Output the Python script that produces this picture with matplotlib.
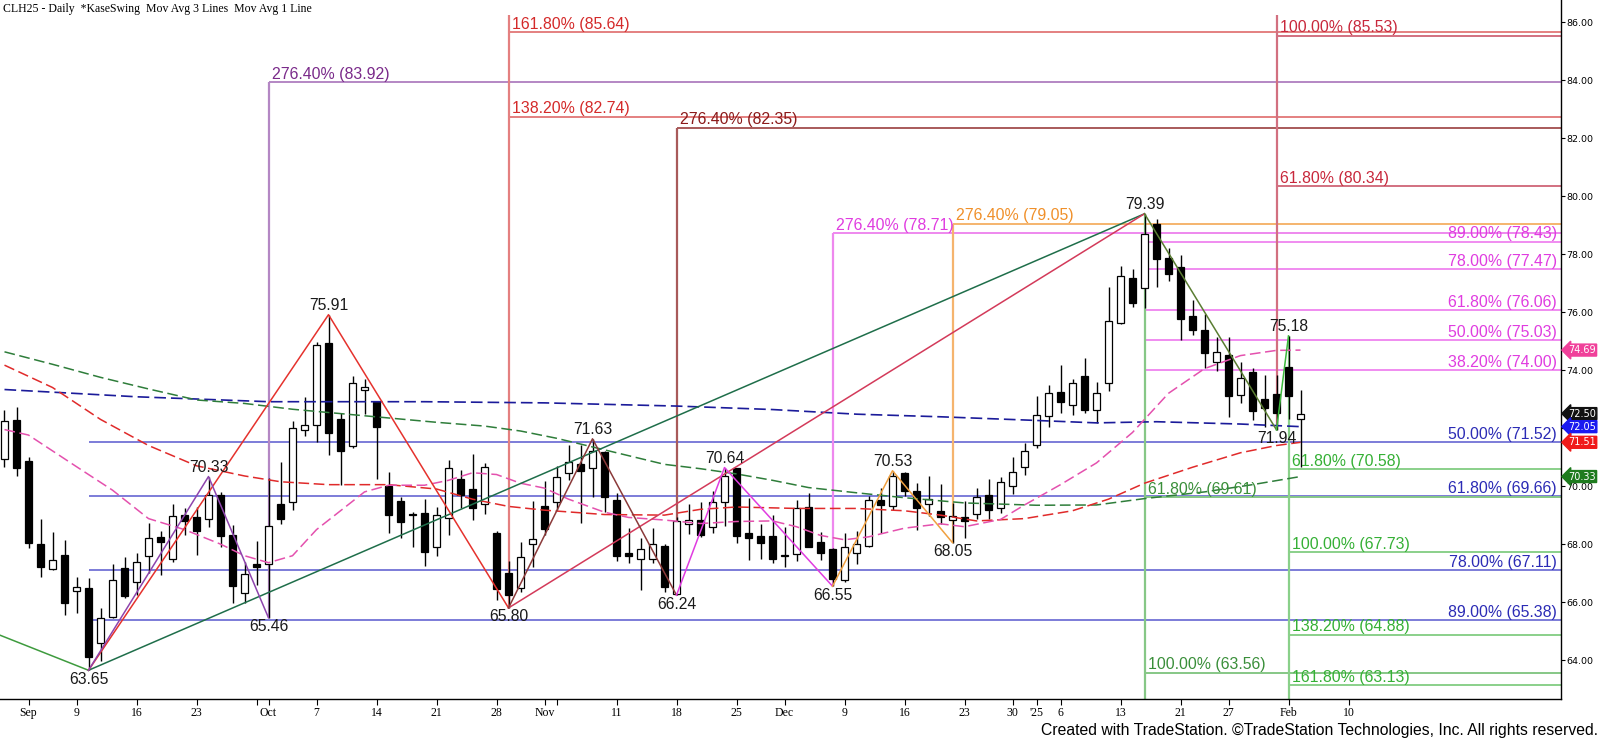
import matplotlib
matplotlib.use("Agg")
import matplotlib.pyplot as plt
import matplotlib.transforms as mtrans
from matplotlib.patches import Rectangle
from matplotlib import font_manager
import numpy as np
import pandas as pd

# ---------------- data ----------------
holidays = ["2024-09-02", "2024-11-28", "2024-12-25", "2025-01-01", "2025-01-20"]
all_days = pd.bdate_range("2024-08-29", "2025-02-14")
all_days = all_days[~all_days.isin(pd.to_datetime(holidays))]

opens = [70.93, 72.28, 70.86, 68.02, 67.13, 67.64, 66.37, 66.47, 64.60, 65.49,
         67.16, 66.68, 67.60, 68.25, 67.47, 69.00, 68.92, 68.85, 69.71, 68.31,
         66.33, 67.31, 67.33, 69.40, 69.44, 71.95, 72.10, 74.94, 72.33, 71.38,
         73.33, 72.91, 70.00, 69.48, 69.05, 69.06, 67.89, 68.91, 70.23, 69.89,
         69.38, 68.40, 66.99, 66.47, 67.99, 69.31, 69.44, 70.44, 70.75, 70.61,
         71.16, 69.52, 67.70, 67.47, 67.50, 67.93, 66.27, 68.68, 68.82, 68.58,
         69.46, 70.61, 68.37, 68.28, 68.28, 67.58, 67.66, 69.27, 68.09, 67.82,
         66.76, 67.68, 67.93, 69.51, 69.31, 70.46, 69.84, 69.40, 69.15, 68.83,
         68.94, 69.03, 69.71, 69.26, 70.00, 70.67, 71.41, 72.43, 73.25, 72.79,
         73.79, 72.64, 73.54, 75.64, 77.18, 76.82, 79.05, 77.85, 77.54, 75.86,
         75.38, 74.27, 74.51, 73.13, 73.92, 73.01, 73.17, 74.09, 72.33]
highs = [72.62, 72.74, 71.00, 68.86, 68.42, 68.14, 66.87, 66.82, 65.80, 67.33,
         67.56, 67.71, 68.73, 68.46, 69.37, 69.23, 69.29, 70.33, 69.80, 68.66,
         67.39, 68.10, 70.27, 70.82, 72.24, 73.06, 74.98, 75.91, 72.53, 73.79,
         73.68, 72.95, 70.49, 69.61, 69.12, 69.55, 69.29, 70.90, 70.55, 71.09,
         70.80, 68.45, 67.42, 68.08, 69.49, 70.18, 70.69, 71.41, 71.41, 71.63,
         71.20, 69.77, 68.54, 68.20, 68.54, 68.00, 68.94, 69.38, 69.46, 69.84,
         70.64, 70.63, 69.58, 68.71, 69.00, 68.60, 69.52, 69.77, 68.43, 67.85,
         68.37, 68.46, 69.66, 69.92, 70.53, 70.49, 70.11, 70.34, 70.07, 69.41,
         69.49, 69.92, 70.24, 70.30, 71.01, 71.49, 73.10, 73.48, 74.17, 73.71,
         74.40, 73.58, 76.85, 77.59, 77.47, 79.39, 79.20, 78.20, 77.97, 76.41,
         75.93, 75.15, 75.13, 74.29, 74.06, 73.83, 73.83, 75.18, 73.31]
lows = [70.67, 70.34, 67.85, 66.87, 67.10, 65.55, 65.61, 63.65, 63.98, 65.44,
        66.13, 66.24, 66.99, 66.93, 67.40, 68.31, 67.62, 68.60, 67.89, 65.96,
        65.96, 66.59, 65.46, 68.69, 69.17, 71.72, 71.53, 71.07, 70.03, 71.30,
        72.48, 70.23, 68.37, 68.20, 67.89, 67.25, 67.60, 68.33, 69.23, 68.83,
        69.04, 66.09, 65.80, 66.36, 67.21, 68.31, 69.17, 70.21, 68.73, 69.63,
        69.12, 67.43, 67.34, 66.41, 67.34, 66.36, 66.24, 68.34, 68.25, 68.40,
        68.63, 68.05, 67.45, 67.50, 67.36, 67.20, 67.43, 67.91, 67.45, 66.55,
        66.70, 67.31, 67.90, 68.39, 69.17, 69.65, 68.48, 68.97, 68.71, 68.05,
        68.20, 68.88, 68.88, 69.06, 69.72, 70.38, 71.30, 72.05, 72.51, 72.45,
        72.51, 72.18, 73.29, 75.60, 76.16, 76.13, 76.87, 77.08, 75.03, 75.21,
        74.06, 73.98, 72.37, 72.87, 72.28, 72.05, 71.94, 72.30, 70.67]
closes = [72.24, 70.63, 68.05, 67.22, 67.45, 65.98, 66.51, 64.11, 65.44, 66.76,
          66.21, 67.37, 68.20, 68.08, 68.98, 68.80, 68.46, 69.69, 68.28, 66.56,
          66.96, 67.20, 68.62, 68.85, 71.99, 72.09, 74.86, 71.84, 71.22, 73.54,
          73.41, 72.05, 69.00, 68.77, 69.00, 67.74, 68.99, 70.61, 69.71, 69.23,
          70.67, 66.44, 66.26, 67.56, 68.16, 68.51, 70.32, 70.82, 70.52, 71.22,
          69.61, 67.60, 67.60, 67.82, 68.02, 66.53, 68.79, 68.82, 68.33, 69.44,
          70.36, 68.29, 68.20, 68.05, 67.47, 67.62, 69.23, 67.91, 67.71, 66.79,
          67.89, 68.02, 69.52, 69.34, 70.36, 69.84, 69.23, 69.54, 68.92, 68.98,
          68.80, 69.61, 69.19, 70.15, 70.49, 71.22, 72.45, 73.20, 72.89, 73.54,
          72.64, 73.20, 75.70, 77.24, 76.33, 78.68, 77.82, 77.33, 75.76, 75.38,
          74.58, 74.63, 73.11, 73.73, 72.60, 72.71, 72.51, 73.12, 72.50]

# moving averages (bar number, value)
ma_pink_bars = [0, 2, 6, 9, 12, 15, 18, 20, 22, 24, 26, 28, 30, 32, 35, 37, 39, 41, 43, 45,
                47, 50, 52, 55, 58, 61, 64, 66, 68, 70, 72, 75, 78, 80, 83, 85, 88, 91, 94, 97,
                100, 103, 106, 108]
ma_pink_vals = [71.95, 71.76, 70.67, 69.86, 68.88, 68.5, 68.0, 67.6, 67.36, 67.6,
                68.5, 69.15, 69.8, 70.03, 70.03, 70.2, 70.46, 70.4, 70.1, 69.93,
                69.55, 69.1, 68.92, 68.83, 68.71, 68.78, 68.8, 68.6, 68.3, 68.15,
                68.25, 68.55, 68.7, 68.6, 68.85, 69.35, 70.05, 70.8, 71.85, 73.2,
                74.05, 74.5, 74.68, 74.69]
ma_red_bars = [0, 4, 8, 12, 16, 20, 23, 27, 32, 36, 39, 42, 45, 50, 55, 58, 61, 66, 71, 75,
               78, 81, 85, 89, 92, 95, 99, 103, 106, 108]
ma_red_vals = [74.17, 73.4, 72.3, 71.4, 70.7, 70.35, 70.15, 70.05, 70.05, 69.9,
               69.55, 69.3, 69.17, 69.02, 69.0, 69.2, 69.28, 69.23, 69.23, 69.15,
               69.0, 68.8, 68.88, 69.15, 69.55, 70.1, 70.65, 71.15, 71.4, 71.51]
ma_green_bars = [0, 4, 8, 12, 16, 20, 24, 28, 32, 36, 40, 43, 46, 49, 52, 55, 58, 61, 64, 67,
                 71, 75, 80, 86, 91, 95, 100, 104, 108]
ma_green_vals = [74.63, 74.2, 73.75, 73.35, 72.97, 72.85, 72.65, 72.5, 72.35, 72.2,
                 72.07, 71.9, 71.65, 71.35, 71.05, 70.75, 70.6, 70.42, 70.2, 69.95,
                 69.77, 69.6, 69.42, 69.34, 69.35, 69.57, 69.8, 70.05, 70.33]
ma_blue_bars = [0, 11, 22, 35, 45, 56, 64, 71, 78, 85, 91, 96, 103, 108]
ma_blue_vals = [73.33, 73.08, 72.91, 72.91, 72.87, 72.76, 72.64, 72.48, 72.39, 72.28,
                72.18, 72.22, 72.14, 72.05]

# swing points
swing_dates = ["2024-09-10", "2024-09-24", "2024-10-01", "2024-10-08", "2024-10-29",
               "2024-11-07", "2024-11-18", "2024-11-22", "2024-12-06", "2024-12-13",
               "2024-12-20", "2025-01-15", "2025-01-31", "2025-02-03"]
swing_prices = [63.65, 70.33, 65.46, 75.91, 65.80, 71.63, 66.24, 70.64, 66.55, 70.53,
                68.05, 79.39, 71.94, 75.18]
swing_is_high = [False, True, False, True, False, True, False, True, False, True,
                 False, True, False, True]
prior_swing_price = 64.86  # value of the incoming line at the left edge

# x labels
tick_dates = ["2024-09-03", "2024-09-09", "2024-09-16", "2024-09-23", "2024-10-01",
              "2024-10-07", "2024-10-14", "2024-10-21", "2024-10-28", "2024-11-01",
              "2024-11-11", "2024-11-18", "2024-11-25", "2024-12-02", "2024-12-09",
              "2024-12-16", "2024-12-23", "2024-12-30", "2025-01-02", "2025-01-06",
              "2025-01-13", "2025-01-21", "2025-01-27", "2025-02-03", "2025-02-10"]
tick_labels = ["Sep", "9", "16", "23", "Oct", "7", "14", "21", "28", "Nov", "11", "18",
               "25", "Dec", "9", "16", "23", "30", "'25", "6", "13", "21", "27", "Feb", "10"]
minor_tick_dates = ["2024-09-30", "2024-11-04"]

# fib groups: anchor date, vertical start, vertical end, levels, label mode, text colour, line colour
fib_groups = [
    ("2024-09-10", None, None, [("50.00%", 71.52), ("61.80%", 69.66), ("78.00%", 67.11), ("89.00%", 65.38)],
     "right", "#2B2BB5", "#7C7CD8"),
    ("2025-01-15", None, None, [("89.00%", 78.43), ("78.00%", 77.47), ("61.80%", 76.06), ("50.00%", 75.03), ("38.20%", 74.00)],
     "right", "#E03CE0", "#F08CF0"),
    ("2024-10-01", 65.46, 83.92, [("276.40%", 83.92)], "left", "#7A2A8A", "#B487C4"),
    ("2024-10-29", 65.80, 86.23, [("161.80%", 85.64), ("138.20%", 82.74)], "left", "#D42A2A", "#E48080"),
    ("2024-11-18", 66.24, 82.35, [("276.40%", 82.35)], "left", "#8B1A1A", "#A85A5A"),
    ("2024-12-06", 66.55, 78.71, [("276.40%", 78.71)], "left", "#E03CE0", "#EE88EE"),
    ("2024-12-20", 68.05, 79.05, [("276.40%", 79.05)], "left", "#F0902A", "#F5B46E"),
    ("2025-01-15", 79.39, 62.0, [("61.80%", 69.61), ("100.00%", 63.56)], "left", "#3A8F3A", "#86C786"),
    ("2025-01-31", 71.94, 86.23, [("100.00%", 85.53), ("61.80%", 80.34)], "left", "#C8283C", "#D27080"),
    ("2025-02-03", 75.18, 62.0, [("61.80%", 70.58), ("100.00%", 67.73), ("138.20%", 64.88), ("161.80%", 63.13)],
     "left", "#35B035", "#8AD08A"),
]

# zigzag segments (list of swing indices) with colours
zigzags = [
    ([0, 11], "#1F6E4A"),
    ([0, 3, 4], "#E5322D"),
    ([4, 11], "#D33A5A"),
    ([0, 1, 2], "#8E44AD"),
    ([4, 5, 6], "#8B3A3A"),
    ([6, 7, 8], "#E03CE0"),
    ([8, 9, 10], "#F0A040"),
    ([11, 12], "#5A7D32"),
    ([12, 13], "#3DBA3D"),
]

value_boxes = [(74.69, "#F0409A"), (72.50, "#111111"), (72.05, "#1A1AF0"),
               (71.51, "#F01A1A"), (70.33, "#1E7B1E")]

# ---------------- figure ----------------
W, H = 1600, 739
fig = plt.figure(figsize=(W / 100, H / 100), dpi=100)
fig.patch.set_facecolor("white")
plot_right = 1561
plot_bottom = 699
ax = fig.add_axes([0, (H - plot_bottom) / H, plot_right / W, plot_bottom / H])
ax.set_facecolor("white")

px_per_bar = 12.0
x0_px = 4.5  # pixel centre of bar 0
xmin = (0 - x0_px) / px_per_bar
xmax = (plot_right - x0_px) / px_per_bar
ax.set_xlim(xmin, xmax)
ax.set_ylim(62.66, 86.76)


def pos(d):
    return int(np.where(all_days == pd.Timestamp(d))[0][0])


n = len(opens)

# fib lines (behind)
for anchor, v0, v1, levels, mode, tcol, lcol in fib_groups:
    xa = pos(anchor)
    if v0 is not None:
        ax.vlines(xa, min(v0, v1), max(v0, v1), colors=lcol, lw=1.6, zorder=1)
    for pct, val in levels:
        ax.hlines(val, xa, xmax, colors=lcol, lw=1.4, zorder=1)
        txt = f"{pct} ({val:.2f})"
        if mode == "right":
            ax.annotate(txt, xy=(1557 / plot_right, val),
                        xycoords=mtrans.blended_transform_factory(ax.transAxes, ax.transData),
                        xytext=(0, 0.3), textcoords="offset points", ha="right", va="bottom",
                        fontsize=11.4, color=tcol, family="Liberation Sans", zorder=6)
        else:
            ax.annotate(txt, xy=(xa, val), xytext=(2.2, 0.3), textcoords="offset points",
                        ha="left", va="bottom", fontsize=11.4, color=tcol,
                        family="Liberation Sans", zorder=6)

# candles
for j in range(n):
    o, h, l, c = opens[j], highs[j], lows[j], closes[j]
    ax.vlines(j, l, h, colors="black", lw=1.0, zorder=2)
    bot = min(o, c)
    hgt = max(abs(c - o), 0.04)
    fc = "white" if c >= o else "black"
    ax.add_patch(Rectangle((j - 0.33, bot), 0.66, hgt, facecolor=fc, edgecolor="black",
                           lw=0.9, zorder=2.5))

# moving averages
dash = (7, 3)
ax.plot(ma_blue_bars, ma_blue_vals, color="#1B1B9A", lw=1.2, dashes=dash, zorder=3)
ax.plot(ma_green_bars, ma_green_vals, color="#2E7D3A", lw=1.1, dashes=dash, zorder=3)
ax.plot(ma_red_bars, ma_red_vals, color="#E02A2A", lw=1.1, dashes=dash, zorder=3)
ax.plot(ma_pink_bars, ma_pink_vals, color="#E451AE", lw=1.1, dashes=dash, zorder=3)

# zigzags
sx = [pos(d) for d in swing_dates]
ax.plot([xmin, sx[0]], [prior_swing_price, swing_prices[0]], color="#3E9B3E", lw=1.1, zorder=4)
for idxs, col in zigzags:
    ax.plot([sx[k] for k in idxs], [swing_prices[k] for k in idxs], color=col, lw=1.1, zorder=4)

# swing labels
for x, p, hi in zip(sx, swing_prices, swing_is_high):
    ax.annotate(f"{p:.2f}", xy=(x, p), xytext=(0, 1 if hi else -1), textcoords="offset points",
                ha="center", va="bottom" if hi else "top", fontsize=11.3, color="#1A1A1A",
                family="Liberation Sans", zorder=7)

# axes styling
for s in ["left", "top"]:
    ax.spines[s].set_visible(False)
for s in ["right", "bottom"]:
    ax.spines[s].set_color("black")
    ax.spines[s].set_linewidth(1.0)

ax.yaxis.tick_right()
yt = np.arange(64, 87, 2)
ax.set_yticks(yt)
ax.set_yticklabels([f"{v:.2f}" for v in yt], fontsize=6.8, family="DejaVu Sans")
ax.tick_params(axis="y", direction="out", length=3, pad=1, width=0.8)

ax.set_xticks([pos(d) for d in tick_dates])
ax.set_xticklabels(tick_labels, fontsize=8.5, family="Liberation Serif")
ax.set_xticks([pos(d) for d in minor_tick_dates], minor=True)
ax.tick_params(axis="x", which="both", direction="out", length=4, pad=2, width=0.8)

# value boxes on the price axis
tr = mtrans.blended_transform_factory(ax.transAxes, ax.transData)
for val, col in value_boxes:
    ax.text(1.0 + 7 / plot_right, val, f"{val:.2f}", transform=tr, ha="left", va="center",
            fontsize=7.0, color="white", family="DejaVu Sans", clip_on=False, zorder=10,
            bbox=dict(boxstyle="larrow,pad=0.1", fc=col, ec=col))

# title and footer
fig.text(3 / W, 1 - 9 / H, "CLH25 - Daily  *KaseSwing  Mov Avg 3 Lines  Mov Avg 1 Line",
         ha="left", va="center", fontsize=8.5, family="Liberation Serif", color="black")

footer_family = ["Liberation Sans"]
try:
    font_manager.findfont("Liberation Sans Narrow", fallback_to_default=False)
    footer_family = ["Liberation Sans Narrow", "Liberation Sans"]
except Exception:
    pass
ft = fig.text(1 - 2 / W, 1 - 730 / H,
              "Created with TradeStation. ©TradeStation Technologies, Inc. All rights reserved.",
              ha="right", va="center", fontsize=12, family=footer_family, color="black")
fig.canvas.draw()
wpx = ft.get_window_extent().width
ft.set_fontsize(12 * 559.0 / wpx)

fig.savefig("out.png", dpi=100, facecolor="white")
